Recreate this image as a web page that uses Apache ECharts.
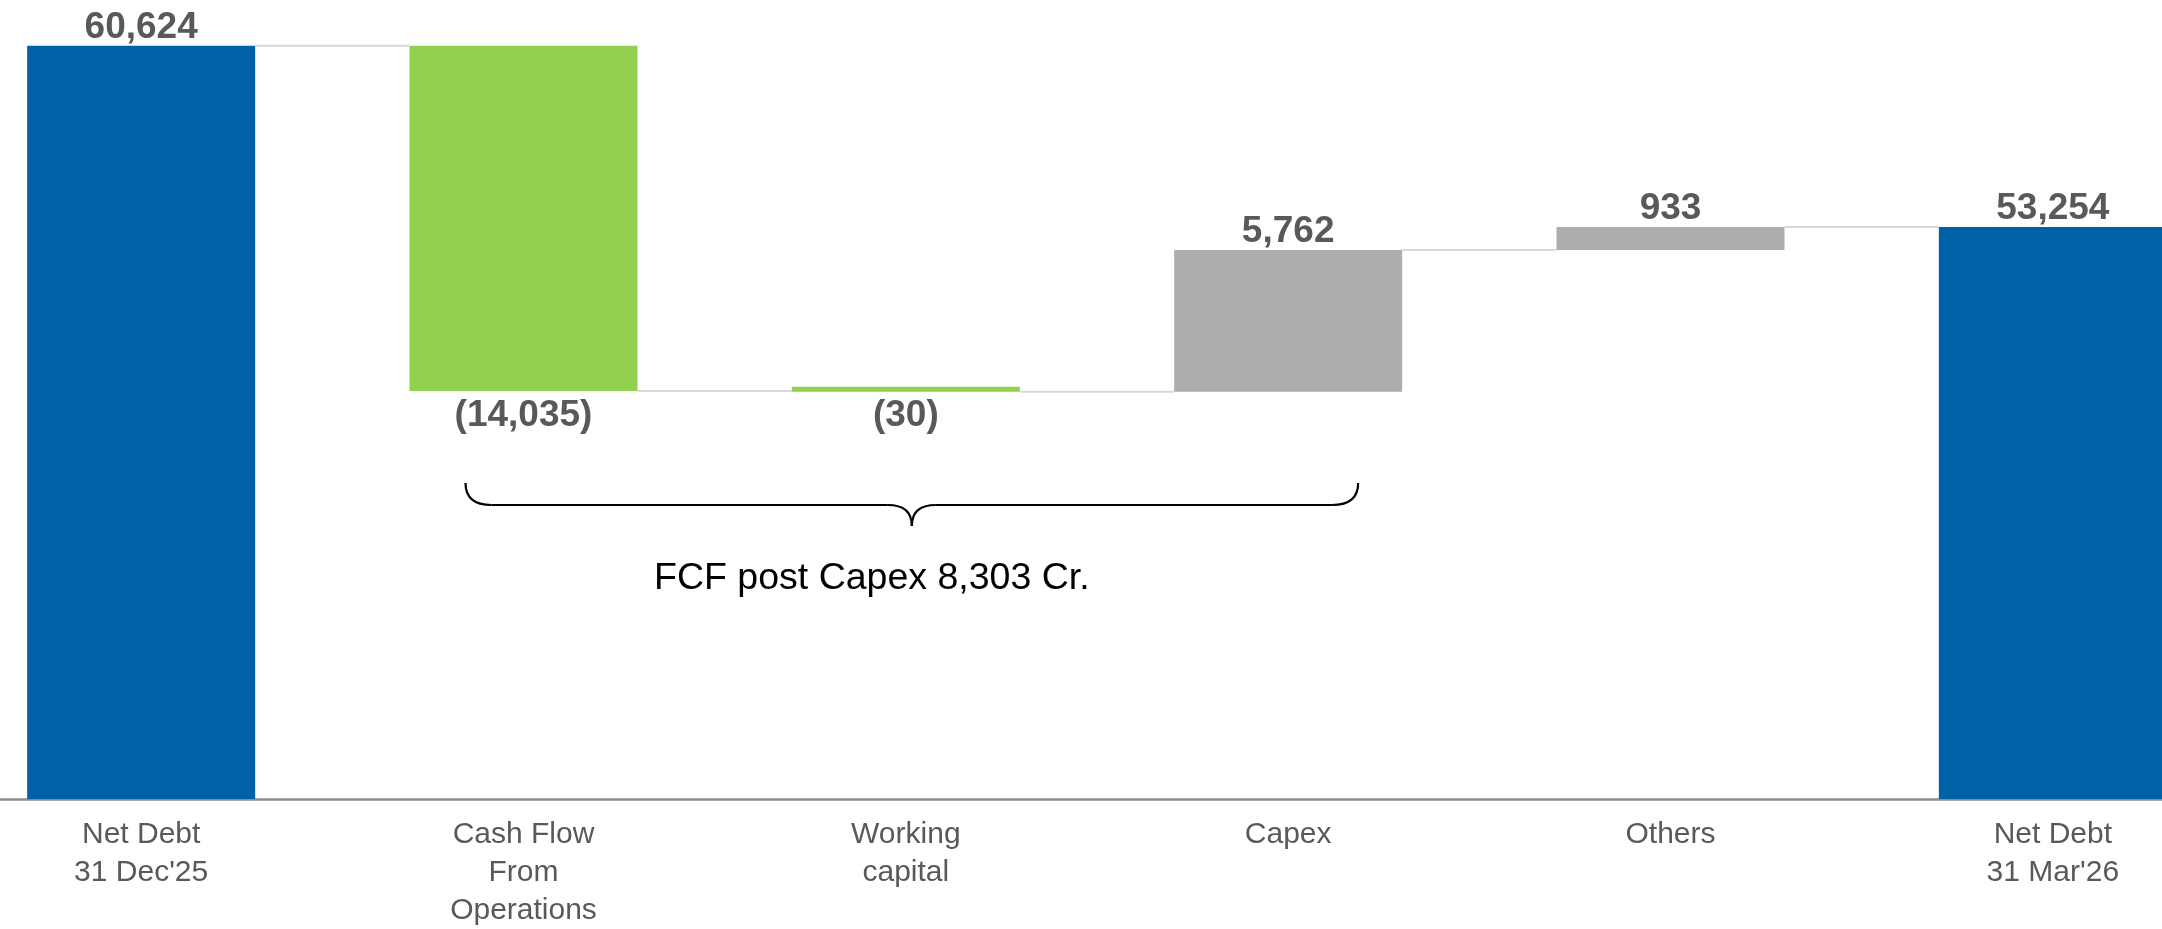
<!DOCTYPE html>
<html>
<head>
<meta charset="utf-8">
<script src="https://cdn.jsdelivr.net/npm/echarts@6/dist/echarts.min.js"></script>
<style>
  html, body { margin: 0; padding: 0; background: #fff; }
  #chart { width: 2162px; height: 929px; }
</style>
</head>
<body>
<div id="chart"></div>
<script>
// net debt bridge, Dec'25 -> Mar'26 (Rs Cr)
const categories = ['Net Debt\n31 Dec\'25', 'Cash Flow\nFrom\nOperations', 'Working\ncapital', 'Capex', 'Others', 'Net Debt\n31 Mar\'26'];
const openingDebt = 60624;
const closingDebt = 53254;
const movements = [-14035, -30, 5762, 933];
const movementColors = ['#92D050', '#92D050', '#ADADAD', '#ADADAD'];
const braceNote = 'FCF post Capex 8,303 Cr.';

const BLUE = '#0062A6';
const LABEL = '#595959';
const FONT = '"Liberation Sans", Arial, sans-serif';
const BAR_W = 228;

const fmt = v => Math.abs(v).toLocaleString('en-US');

// build the floating pieces of the waterfall
const totals = [openingDebt, '-', '-', '-', '-', closingDebt];
const bases = ['-'];
const steps = ['-'];
const levels = [[0, openingDebt]];
let running = openingDebt;
movements.forEach((m, i) => {
  const next = running + m;
  bases.push(Math.min(running, next));
  steps.push({
    value: Math.abs(m),
    signed: m,
    itemStyle: { color: movementColors[i] },
    label: { position: m < 0 ? 'bottom' : 'top', distance: m < 0 ? 6 : 0 }
  });
  running = next;
  levels.push([i + 1, running]);
});
bases.push('-');
steps.push('-');

const chart = echarts.init(document.getElementById('chart'));

const valueLabel = {
  show: true,
  fontFamily: FONT,
  fontSize: 37,
  fontWeight: 'bold',
  color: LABEL
};

chart.setOption({
  animation: false,
  grid: { left: -50, right: -82, top: 12, bottom: 130, outerBoundsMode: 'none' },
  xAxis: {
    type: 'category',
    data: categories,
    axisTick: { show: false },
    axisLine: { lineStyle: { color: '#8C8C8C', width: 2.5 } },
    axisLabel: {
      interval: 0,
      margin: 17,
      fontFamily: FONT,
      fontSize: 30,
      lineHeight: 38,
      color: LABEL
    }
  },
  yAxis: { type: 'value', min: 30000, max: 62000, show: false },
  series: [
    {
      type: 'custom',
      z: 1,
      data: levels,
      renderItem: (params, api) => {
        const i = api.value(0);
        const v = api.value(1);
        const a = api.coord([i, v]);
        const b = api.coord([i + 1, v]);
        return {
          type: 'line',
          shape: { x1: a[0] + BAR_W / 2, y1: a[1], x2: b[0] - BAR_W / 2, y2: b[1] },
          style: { stroke: '#D9D9D9', lineWidth: 2 }
        };
      }
    },
    {
      name: 'Net Debt',
      type: 'bar',
      z: 2,
      barWidth: BAR_W,
      barGap: '-100%',
      data: totals,
      itemStyle: { color: BLUE },
      label: Object.assign({}, valueLabel, {
        position: 'top',
        distance: 0,
        formatter: p => fmt(p.value)
      })
    },
    {
      name: 'base',
      type: 'bar',
      stack: 'wf',
      z: 2,
      barWidth: BAR_W,
      barGap: '-100%',
      data: bases,
      itemStyle: { color: 'transparent' },
      emphasis: { disabled: true }
    },
    {
      name: 'movement',
      type: 'bar',
      stack: 'wf',
      z: 2,
      barWidth: BAR_W,
      barGap: '-100%',
      barMinHeight: 5,
      data: steps,
      label: Object.assign({}, valueLabel, {
        formatter: p => p.data.signed < 0 ? '(' + fmt(p.data.signed) + ')' : fmt(p.data.signed)
      })
    }
  ]
});

// brace under the three operating items
const xCfo = chart.convertToPixel({ xAxisIndex: 0 }, 1);
const xCapex = chart.convertToPixel({ xAxisIndex: 0 }, 3);
const xl = xCfo - 58;
const xr = xCapex + 70;
const xc = (xl + xr) / 2;
const yTop = 483, yLine = 505, yTip = 526;
const braceStyle = { fill: null, stroke: '#000', lineWidth: 2.2 };
const curve = (x1, y1, cx, cy, x2, y2) => ({
  type: 'bezierCurve',
  shape: { x1: x1, y1: y1, cpx1: cx, cpy1: cy, x2: x2, y2: y2 },
  style: braceStyle
});
const seg = (x1, x2) => ({
  type: 'line',
  shape: { x1: x1, y1: yLine, x2: x2, y2: yLine },
  style: braceStyle
});

chart.setOption({
  graphic: [
    curve(xl, yTop, xl, yLine, xl + 26, yLine),
    seg(xl + 26, xc - 24),
    curve(xc - 24, yLine, xc, yLine, xc, yTip),
    curve(xc, yTip, xc, yLine, xc + 24, yLine),
    seg(xc + 24, xr - 26),
    curve(xr - 26, yLine, xr, yLine, xr, yTop),
    {
      type: 'text',
      x: xc - 40,
      y: 579,
      style: {
        text: braceNote,
        fontFamily: FONT,
        fontSize: 37.5,
        fill: '#000',
        align: 'center',
        verticalAlign: 'middle'
      }
    }
  ]
});

window.addEventListener('resize', () => chart.resize());
</script>
</body>
</html>
